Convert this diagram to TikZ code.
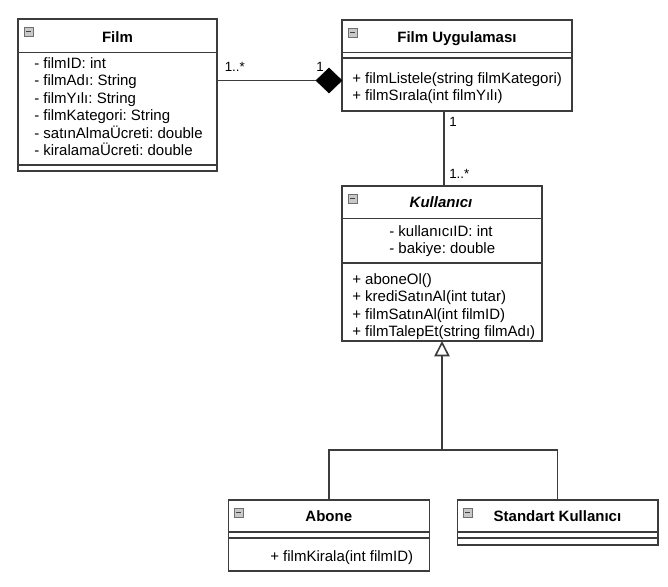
\documentclass[tikz,border=0pt]{standalone}
\usepackage{fontspec}
\setmainfont{Liberation Sans}
\usetikzlibrary{arrows.meta,shapes.geometric}
\frenchspacing
\definecolor{bord}{RGB}{60,60,60}
\definecolor{icfill}{RGB}{200,200,200}
\definecolor{icline}{RGB}{110,110,110}
\tikzset{
  ubox/.style={draw=bord, fill=white, line width=1.2pt, inner sep=0pt, outer sep=0pt, anchor=north west},
  sep/.style={draw=bord, line width=1.2pt},
  txt/.style={inner sep=0pt, anchor=base west, font=\fontsize{11.25}{13}\selectfont},
  ttl/.style={inner sep=0pt, anchor=base, font=\fontsize{11.25}{13}\selectfont\bfseries},
  mult/.style={inner sep=0pt, anchor=base west, font=\fontsize{10}{12}\selectfont},
  conn/.style={draw=bord, line width=1.2pt},
}
\newcommand\umlicon[2]{%
  \draw[icline, fill=icfill, line width=0.6pt] (#1+6,#2+8) rectangle (#1+15,#2+17);
  \draw[icline!60!black, line width=1.2pt] (#1+8,#2+12.5) -- (#1+13,#2+12.5);}
\begin{document}
\begin{tikzpicture}[x=0.75pt,y=-0.75pt]
\useasboundingbox (0,0) rectangle (668,586);

% Film
\node[ubox, minimum width=199*0.75pt, minimum height=152*0.75pt] (film) at (18,19) {};
\draw[sep] (18,52.3) -- (217,52.3);
\draw[sep] (18,165) -- (217,165);
\umlicon{18}{19}
\node[ttl] (filmT) at (117.5,42) {Film};
\node[txt] (f1) at (34,68) {- filmID: int};
\node[txt] (f2) at (34,85.5) {- filmAdı: String};
\node[txt] (f3) at (34,103) {- filmYılı: String};
\node[txt] (f4) at (34,120.5) {- filmKategori: String};
\node[txt] (f5) at (34,138) {- satınAlmaÜcreti: double};
\node[txt] (f6) at (34,155.5) {- kiralamaÜcreti: double};

% Film Uygulamasi
\node[ubox, minimum width=230*0.75pt, minimum height=91*0.75pt] (app) at (342,20) {};
\draw[sep] (342,52.3) -- (572,52.3);
\draw[sep] (342,57.7) -- (572,57.7);
\umlicon{342}{20}
\node[ttl] (appT) at (457,42) {Film Uygulaması};
\node[txt] (a1) at (352,83) {+ filmListele(string filmKategori)};
\node[txt] (a2) at (352,100.5) {+ filmSırala(int filmYılı)};

% Kullanici
\node[ubox, minimum width=200*0.75pt, minimum height=155*0.75pt] (kul) at (342,186) {};
\draw[sep] (342,218.3) -- (542,218.3);
\draw[sep] (342,262.7) -- (542,262.7);
\umlicon{342}{186}
\node[ttl, font=\fontsize{11.25}{13}\selectfont\bfseries\itshape] (kulT) at (441,207.5) {Kullanıcı};
\node[txt] (k1) at (389,236) {- kullanıcıID: int};
\node[txt] (k2) at (389,253) {- bakiye: double};
\node[txt] (k3) at (352,284) {+ aboneOl()};
\node[txt] (k4) at (352,301.5) {+ krediSatınAl(int tutar)};
\node[txt] (k5) at (352,319) {+ filmSatınAl(int filmID)};
\node[txt] (k6) at (352,336.5) {+ filmTalepEt(string filmAdı)};

% Abone
\node[ubox, minimum width=201*0.75pt, minimum height=70.7*0.75pt] (abone) at (228.3,500) {};
\draw[sep] (228.3,531.7) -- (429.3,531.7);
\draw[sep] (228.3,537.7) -- (429.3,537.7);
\umlicon{228.3}{500}
\node[ttl] (aboneT) at (328.8,521.7) {Abone};
\node[txt] (ab1) at (270,561.5) {+ filmKirala(int filmID)};

% Standart Kullanici
\node[ubox, minimum width=200.4*0.75pt, minimum height=45*0.75pt] (std) at (457.3,500) {};
\draw[sep] (457.3,531.7) -- (657.7,531.7);
\draw[sep] (457.3,537.7) -- (657.7,537.7);
\umlicon{457.3}{500}
\node[ttl] (stdT) at (557.5,521.7) {Standart Kullanıcı};

% composition Film -- Film Uygulamasi
\node[diamond, draw=black, fill=black, inner sep=0pt, outer sep=0pt, minimum width=26*0.75pt, minimum height=25*0.75pt] (dia) at (329,80.5) {};
\draw[conn] (film.east |- dia.west) -- (dia.west);
\node[mult] (m1) at (224.5,71) {1..*};
\node[mult] (m2) at (316,71) {1};

% association Film Uygulamasi -- Kullanici
\coordinate (vx) at (444,0);
\draw[conn] (app.south -| vx) -- (kul.north -| vx);
\node[mult] (m3) at (449,126) {1};
\node[mult] (m4) at (449,178.3) {1..*};

% generalization
\coordinate (jn) at (442,450);
\draw[conn] (abone.north) |- (jn) -| (std.north);
\draw[conn, -{Triangle[open, width=11.5pt, length=11.5pt]}] (jn) -- (kul.south);
\end{tikzpicture}
\end{document}
